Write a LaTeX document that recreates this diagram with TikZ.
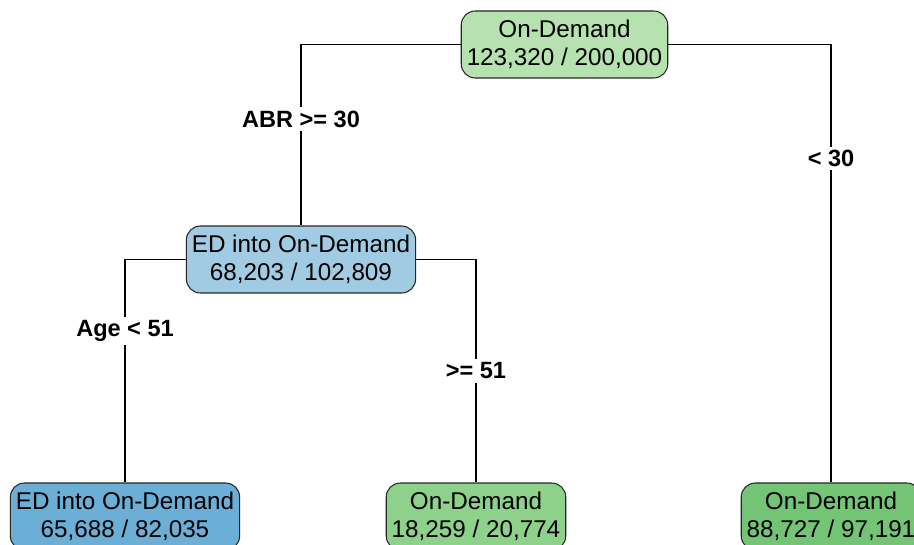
\documentclass[tikz,border=0pt]{standalone}
\usepackage{fontspec}
\setmainfont{Liberation Sans}
\definecolor{treeroot}{HTML}{B5E2AE}
\definecolor{treemid}{HTML}{A0CBE2}
\definecolor{treeblue}{HTML}{6BAED6}
\definecolor{treegreen}{HTML}{8ED18A}
\definecolor{treedeep}{HTML}{74C476}
\usetikzlibrary{positioning}

\begin{document}
\begin{tikzpicture}[x=0.02cm, y=-0.02cm,
  box/.style={draw=black!85, line width=0.6pt, rounded corners=8pt,
              minimum height=1.34cm, inner xsep=0.11cm, inner ysep=0pt,
              align=center, font=\fontsize{13.8}{15.8}\selectfont},
  lbl/.style={fill=white, inner sep=2pt, font=\fontsize{13.4}{15}\selectfont\bfseries},
  edge/.style={draw=black, line width=0.6pt}
]
  \clip (0,0) rectangle (914,545);
  \fill[white] (0,0) rectangle (914,545);

  \node[box, fill=treeroot]  (root)  at (564.5,44.5) {On-Demand\\123,320 / 200,000};
  \node[box, fill=treemid]   (ed)    at (301,259.5)  {ED into On-Demand\\68,203 / 102,809};
  \node[box, fill=treeblue]  (edlf)  at (125,516.5)  {ED into On-Demand\\65,688 / 82,035};
  \node[box, fill=treegreen] (odlf)  at (476,516.5)  {On-Demand\\18,259 / 20,774};
  \node[box, fill=treedeep]  (rtlf)  at (831,516.5)  {On-Demand\\88,727 / 97,191};

  \draw[edge] (root.west) -| node[lbl, pos=0.706] {ABR >= 30} (ed.north);
  \draw[edge] (root.east) -| node[lbl, pos=0.63]  {< 30} (rtlf.north);
  \draw[edge] (ed.west)   -| node[lbl, pos=0.66]  {Age < 51} (edlf.north);
  \draw[edge] (ed.east)   -| node[lbl, pos=0.75]  {>= 51} (odlf.north);

\end{tikzpicture}
\end{document}
